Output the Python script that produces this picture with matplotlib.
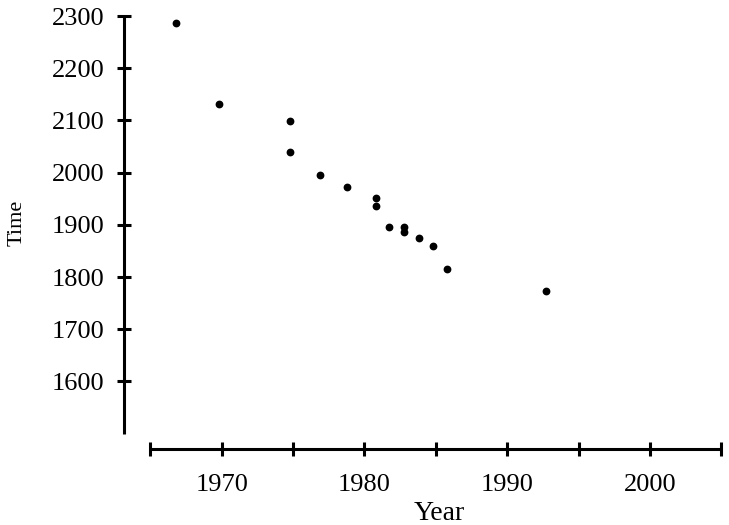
import matplotlib
matplotlib.use("Agg")
import matplotlib.pyplot as plt

# values
years = [1966.8, 1969.8, 1974.8, 1974.8, 1976.9, 1978.8, 1980.8, 1980.8,
         1981.7, 1982.8, 1982.8, 1983.8, 1984.8, 1985.8, 1992.7]
times = [2287, 2132, 2099, 2040, 1996, 1972, 1951, 1937,
         1895, 1895, 1886, 1874, 1859, 1815, 1773]

x_ticks = [1965, 1970, 1975, 1980, 1985, 1990, 1995, 2000, 2005]
x_labels = ['', '1970', '', '1980', '', '1990', '', '2000', '']
y_ticks = [1600, 1700, 1800, 1900, 2000, 2100, 2200, 2300]

plt.rcParams['font.family'] = ['Liberation Serif', 'DejaVu Serif']

fig = plt.figure(figsize=(7.29, 5.25), dpi=100)
ax = fig.add_axes([124 / 729, 76 / 525, 598 / 729, 434 / 525])

ax.plot(years, times, 'o', color='black', markersize=4.6, clip_on=False)

ax.set_xlim(1963.15, 2005.05)
ax.set_ylim(1470.5, 2302)

for side in ['top', 'right']:
    ax.spines[side].set_visible(False)
for side in ['left', 'bottom']:
    ax.spines[side].set_linewidth(2.2)
    ax.spines[side].set_capstyle('butt')
ax.spines['left'].set_bounds(1500, 2300)
ax.spines['bottom'].set_bounds(1965, 2005)

ax.set_xticks(x_ticks)
ax.set_xticklabels(x_labels)
ax.set_yticks(y_ticks)
ax.tick_params(direction='inout', length=10.5, width=2.2, labelsize=19,
               colors='black', pad=9)
ax.tick_params(axis='x', pad=13)

ax.text(-0.178, 0.521, 'Time', transform=ax.transAxes, rotation=90,
        ha='center', va='center', fontsize=16)
ax.text(0.528, -0.148, 'Year', transform=ax.transAxes,
        ha='center', va='center', fontsize=20)

fig.savefig('out.png', dpi=100)
